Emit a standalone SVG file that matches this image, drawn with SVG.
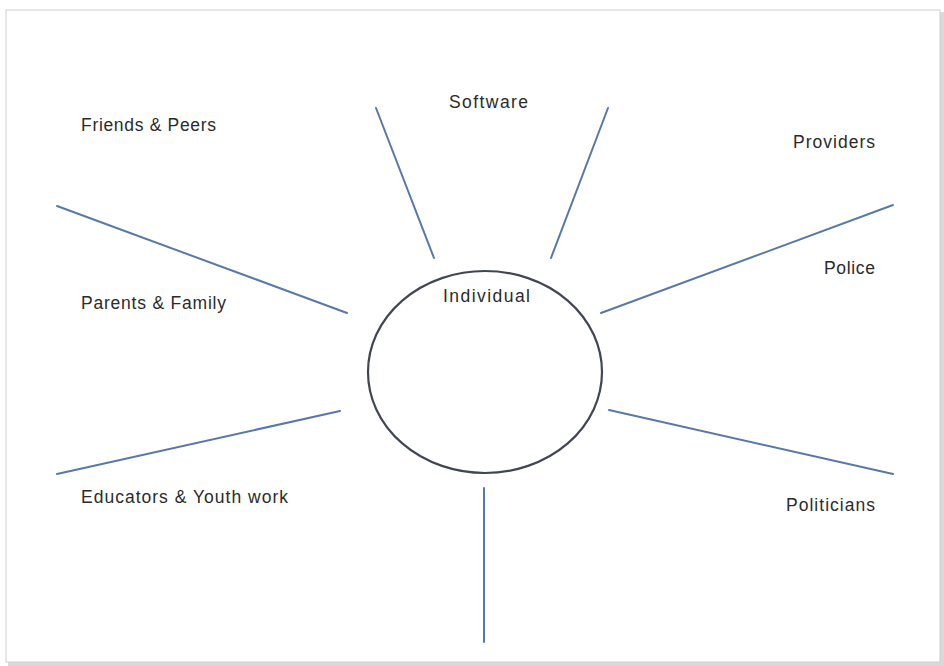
<svg xmlns="http://www.w3.org/2000/svg" width="944" height="666" viewBox="0 0 944 666">
  <defs>
    <style>
      .lbl { font-family: "Liberation Sans", Arial, sans-serif; font-size: 17.5px; fill: #2b2b2b; }
      .spoke { stroke: #5878a8; stroke-width: 2; fill: none; stroke-linecap: round; }
      .core { stroke: #404652; stroke-width: 2.2; fill: #ffffff; }
    </style>
  </defs>
  <rect x="0" y="0" width="944" height="666" fill="#ffffff"/>
  <g id="frame">
    <rect x="8" y="12" width="936" height="654" fill="#d9d9d9"/>
    <rect x="6" y="10" width="934" height="652" fill="#ffffff" stroke="#cfcfcf" stroke-width="1"/>
  </g>
  <g id="connectors">
    <line class="spoke" x1="376" y1="108" x2="434" y2="258"/>
    <line class="spoke" x1="608" y1="108" x2="551" y2="258"/>
    <line class="spoke" x1="57" y1="206" x2="347" y2="313"/>
    <line class="spoke" x1="57" y1="474" x2="340" y2="411"/>
    <line class="spoke" x1="601" y1="313" x2="893" y2="205"/>
    <line class="spoke" x1="609" y1="410" x2="893" y2="474"/>
    <line class="spoke" x1="484" y1="488" x2="484" y2="642"/>
  </g>
  <g id="individual">
    <ellipse class="core" cx="485" cy="372" rx="117" ry="101"/>
    <text class="lbl" x="443" y="302" textLength="87">Individual</text>
  </g>
  <g id="software"><text class="lbl" x="449" y="108" textLength="79">Software</text></g>
  <g id="friends"><text class="lbl" x="81" y="131" textLength="135">Friends &amp; Peers</text></g>
  <g id="parents"><text class="lbl" x="81" y="309" textLength="145">Parents &amp; Family</text></g>
  <g id="educators"><text class="lbl" x="81" y="503" textLength="207">Educators &amp; Youth work</text></g>
  <g id="providers"><text class="lbl" x="793" y="148" textLength="82">Providers</text></g>
  <g id="police"><text class="lbl" x="824" y="274" textLength="51">Police</text></g>
  <g id="politicians"><text class="lbl" x="786" y="511" textLength="89">Politicians</text></g>
</svg>
